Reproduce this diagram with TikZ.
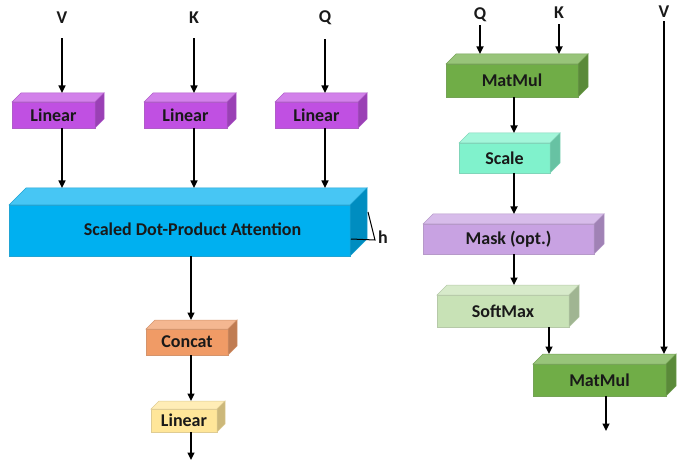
\documentclass[tikz,border=0pt]{standalone}
\usepackage{fontspec}
\setmainfont{Carlito}
\usetikzlibrary{arrows.meta,calc}
\definecolor{cLin}{RGB}{192,80,226}
\definecolor{cSDPA}{RGB}{0,176,240}
\definecolor{cCon}{RGB}{240,155,102}
\definecolor{cYel}{RGB}{255,230,153}
\definecolor{cMM}{RGB}{112,173,71}
\definecolor{cSca}{RGB}{128,242,204}
\definecolor{cMask}{RGB}{200,162,226}
\definecolor{cSoft}{RGB}{200,226,182}
\definecolor{txt}{RGB}{25,25,25}
\tikzset{
  front/.style={draw=#1!75!gray, fill=#1, line width=0.5pt, outer sep=0pt, inner sep=0pt,
    font=\fontsize{18}{20}\selectfont\bfseries, text=txt},
  lab/.style={font=\fontsize{18}{20}\selectfont\bfseries, text=txt, inner sep=2pt},
  arr/.style={line width=1.6pt, -{Triangle[length=7.5pt,width=7pt]}},
}
\newcommand{\mycuboid}[8]{%
  \node[front=#7, minimum width=#4, minimum height=#5] (#1) at (#2,#3) {#8};
  \fill[#7!72!white, draw=#7!75!gray, line width=0.5pt] (#1.north west) -- ++(#6,#6) -- ([shift={(#6,#6)}]#1.north east) -- (#1.north east) -- cycle;
  \fill[#7!80!black, draw=#7!75!gray, line width=0.5pt] (#1.north east) -- ++(#6,#6) -- ([shift={(#6,#6)}]#1.south east) -- (#1.south east) -- cycle;
  \coordinate (#1t) at ([yshift=#6]#1.north);
}
\begin{document}
\begin{tikzpicture}[x=1pt,y=1pt]
\useasboundingbox (0,0) rectangle (685,464);
% ---------- left: multi-head attention ----------
\node[lab] (lV) at (62,446) {V};
\node[lab] (lK) at (194,446) {K};
\node[lab] (lQ) at (325,446) {Q};
\mycuboid{linV}{53.5}{349}{83}{26}{9}{cLin}{Linear}
\mycuboid{linK}{185.5}{349}{83}{26}{9}{cLin}{Linear}
\mycuboid{linQ}{316.5}{349}{83}{26}{9}{cLin}{Linear}
\mycuboid{sdpa}{179.5}{233.5}{341}{51}{17}{cSDPA}{\hspace*{26pt}\raisebox{3pt}{Scaled Dot-Product Attention}}
\mycuboid{concat}{187}{122}{82}{26}{9}{cCon}{Concat}
\mycuboid{linO}{184}{43.5}{66}{23}{8}{cYel}{Linear}
\coordinate (colx) at (191,0);
\coordinate (outL) at (191,4);
\draw[arr] ([yshift=-12pt]lV.south) -- (lV |- linVt);
\draw[arr] ([yshift=-12pt]lK.south) -- (lK |- linKt);
\draw[arr] ([yshift=-12pt]lQ.south) -- (lQ |- linQt);
\draw[arr] (lV |- linV.south) -- (lV |- sdpat);
\draw[arr] (lK |- linK.south) -- (lK |- sdpat);
\draw[arr] (lQ |- linQ.south) -- (lQ |- sdpat);
\draw[arr] (colx |- sdpa.south) -- (colx |- concatt);
\draw[arr] (colx |- concat.south) -- (colx |- linOt);
\draw[arr] (colx |- linO.south) -- (outL);
% h bracket
\coordinate (hA) at (368,252);
\coordinate (hB) at (375,224);
\coordinate (hC) at (351,225);
\draw[line width=1pt] (hA) -- (hB) -- (hC);
\node[lab] (hl) at (383,227) {h};
% ---------- right: scaled dot-product attention ----------
\node[lab] (rQ) at (480,449) {Q};
\node[lab] (rK) at (559,451) {K};
\node[lab] (rV) at (664,452) {V};
\mycuboid{mmA}{512}{383.5}{132}{33}{10}{cMM}{MatMul}
\mycuboid{scale}{504.5}{306}{91}{30}{10}{cSca}{Scale}
\mycuboid{mask}{508.5}{225}{171}{30}{10}{cMask}{Mask (opt.)}
\mycuboid{soft}{503}{153}{132}{32}{10}{cSoft}{SoftMax}
\mycuboid{mmB}{599.5}{84}{133}{32}{10}{cMM}{MatMul}
\coordinate (rcol) at (514,0);
\coordinate (scol) at (549,0);
\coordinate (outR) at (606,33);
\draw[arr] ([yshift=-1pt]rQ.south) -- (rQ |- mmAt);
\draw[arr] ([yshift=-3pt]rK.south) -- (rK |- mmAt);
\draw[arr] ([yshift=-1pt]rV.south) -- (rV |- mmBt);
\draw[arr] (rcol |- mmA.south) -- (rcol |- scalet);
\draw[arr] (rcol |- scale.south) -- (rcol |- maskt);
\draw[arr] (rcol |- mask.south) -- (rcol |- softt);
\draw[arr] (scol |- soft.south) -- (scol |- mmBt);
\draw[arr] (outR |- mmB.south) -- (outR);
\end{tikzpicture}
\end{document}
